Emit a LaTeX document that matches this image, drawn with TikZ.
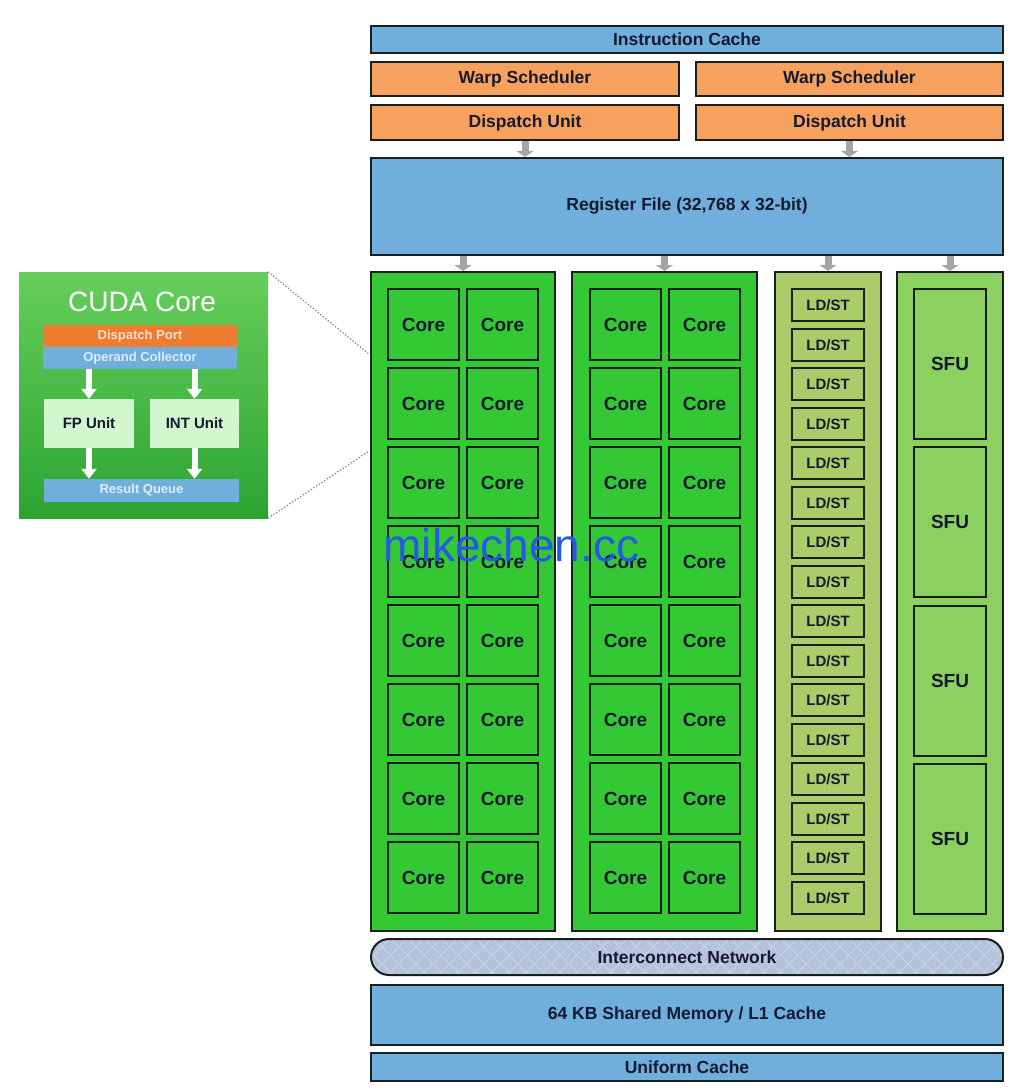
\documentclass[tikz,border=0pt]{standalone}
\usepackage{fontspec}
\setmainfont{Liberation Sans}
\usetikzlibrary{arrows.meta,patterns.meta}

\definecolor{cacheblue}{RGB}{112,174,220}
\definecolor{warporange}{RGB}{246,162,94}
\definecolor{coregreen}{RGB}{52,200,52}
\definecolor{ldstgreen}{RGB}{170,205,105}
\definecolor{sfugreen}{RGB}{140,208,96}
\definecolor{netblue}{RGB}{180,195,220}
\definecolor{netline}{RGB}{205,215,232}
\definecolor{edge}{RGB}{25,30,30}
\definecolor{ink}{RGB}{22,26,48}
\definecolor{feedgrey}{RGB}{165,165,165}
\definecolor{cudatop}{RGB}{102,206,92}
\definecolor{cudabottom}{RGB}{44,164,50}
\definecolor{portorange}{RGB}{237,125,49}
\definecolor{portink}{RGB}{250,222,210}
\definecolor{opink}{RGB}{222,236,250}
\definecolor{unitpale}{RGB}{212,246,206}
\definecolor{zoomgreen}{RGB}{90,140,90}
\definecolor{markblue}{RGB}{38,88,232}

\tikzset{
  unit/.style={draw=edge, line width=2pt, inner sep=0pt, text=ink,
    font=\bfseries\fontsize{17.5}{20}\selectfont},
  blue unit/.style={unit, fill=cacheblue},
  orange unit/.style={unit, fill=warporange},
  lane/.style={draw=edge, line width=2pt, inner sep=0pt,
    minimum width=#1, minimum height=659pt},
  core/.style={unit, fill=coregreen, minimum width=71pt, minimum height=71pt,
    font=\bfseries\fontsize{19}{22}\selectfont},
  ldst/.style={unit, fill=ldstgreen, minimum width=72pt, minimum height=32pt,
    font=\bfseries\fontsize{15}{18}\selectfont},
  sfu/.style={unit, fill=sfugreen, minimum width=72pt, minimum height=150pt,
    font=\bfseries\fontsize{19}{22}\selectfont},
  feed/.style={draw=feedgrey, line width=7pt, -{Triangle[width=17pt,length=6pt]}},
  cudapart/.style={inner sep=0pt, font=\bfseries\fontsize{13}{15}\selectfont},
  flow/.style={draw=white, line width=6pt, -{Triangle[width=15pt,length=10pt]}},
  zoomline/.style={draw=zoomgreen, dotted, line width=1.2pt},
}

\begin{document}
\begin{tikzpicture}[x=1pt,y=-1pt]
\useasboundingbox (0,0) rectangle (1024,1091);

% front end
\node[blue unit, minimum width=632pt, minimum height=27pt] (icache) at (687,39.5) {Instruction Cache};
\node[orange unit, minimum width=308pt, minimum height=34pt] (warpL) at (525,79) {Warp Scheduler};
\node[orange unit, minimum width=307pt, minimum height=34pt] (warpR) at (849.5,79) {Warp Scheduler};
\node[orange unit, minimum width=308pt, minimum height=35pt] (dispL) at (525,122.5) {Dispatch Unit};
\node[orange unit, minimum width=307pt, minimum height=35pt] (dispR) at (849.5,122.5) {Dispatch Unit};
\node[blue unit, minimum width=632pt, minimum height=97pt] (reg) at (687,206.5) {Register File (32,768 x 32-bit)};

% execution lanes
\node[lane=184pt, fill=coregreen] (colA) at (463,601.5) {};
\node[lane=185pt, fill=coregreen] (colB) at (664.5,601.5) {};
\node[lane=106pt, fill=ldstgreen] (colL) at (828,601.5) {};
\node[lane=106pt, fill=sfugreen] (colS) at (950,601.5) {};

\foreach \r in {0,...,7}{
  \foreach \x/\n in {423.5/a,502.5/b,625.5/c,704.5/d}
    \node[core] (core-\n\r) at (\x,324.5+79*\r) {Core};
}
\foreach \r in {0,...,15}
  \node[ldst] (ldst-\r) at (828,{round(305+39.5*\r)}) {LD/ST};
\foreach \r in {0,...,3}
  \node[sfu] (sfu-\r) at (950,{round(364+158.3*\r)}) {SFU};

\draw[feed] (dispL.south) -- (dispL.south |- reg.north);
\draw[feed] (dispR.south) -- (dispR.south |- reg.north);
\foreach \c in {colA,colB,colL,colS}
  \draw[feed] (\c.north |- reg.south) -- (\c.north);

% memory side
\node[unit, rounded corners=18pt, minimum width=632pt, minimum height=36pt,
  preaction={fill=netblue},
  preaction={pattern={Lines[angle=-45,distance=12pt,line width=0.7pt]}, pattern color=netline},
  pattern={Lines[angle=45,distance=12pt,line width=0.7pt]}, pattern color=netline] (net) at (687,957) {Interconnect Network};
\node[blue unit, minimum width=632pt, minimum height=60pt] (smem) at (687,1015) {64 KB Shared Memory / L1 Cache};
\node[blue unit, minimum width=632pt, minimum height=28pt] (ucache) at (687,1067) {Uniform Cache};

% cuda core detail
\node[inner sep=0pt, minimum width=249pt, minimum height=246pt,
  top color=cudatop, bottom color=cudabottom] (cuda) at (143.5,395) {};
\node[text=white, font=\fontsize{28}{32}\selectfont] (cudatitle) at (142,302) {CUDA Core};
\node[cudapart, fill=portorange, text=portink, minimum width=194pt, minimum height=22pt] (port) at (140,336) {Dispatch Port};
\node[cudapart, fill=cacheblue, text=opink, minimum width=194pt, minimum height=22pt] (opc) at (140,358) {Operand Collector};
\node[cudapart, fill=unitpale, text=ink, minimum width=90pt, minimum height=49pt,
  font=\bfseries\fontsize{15}{18}\selectfont] (fpu) at (89,423.5) {FP Unit};
\node[cudapart, fill=unitpale, text=ink, minimum width=89pt, minimum height=49pt,
  font=\bfseries\fontsize{15}{18}\selectfont] (intu) at (194.5,423.5) {INT Unit};
\node[cudapart, fill=cacheblue, text=opink, minimum width=195pt, minimum height=23pt] (rq) at (141.5,490.5) {Result Queue};

\draw[flow] (fpu.north |- opc.south) -- (fpu.north);
\draw[flow] (intu.north |- opc.south) -- (intu.north);
\draw[flow] (fpu.south) -- (fpu.south |- rq.north);
\draw[flow] (intu.south) -- (intu.south |- rq.north);

\coordinate (zoomtop) at (369,354);
\coordinate (zoombot) at (369,451);
\draw[zoomline] (cuda.north east) -- (zoomtop);
\draw[zoomline] (cuda.south east) -- (zoombot);

\node[text=markblue, font=\fontsize{46}{50}\selectfont] (mark) at (511.5,545) {mikechen.cc};
\end{tikzpicture}
\end{document}
